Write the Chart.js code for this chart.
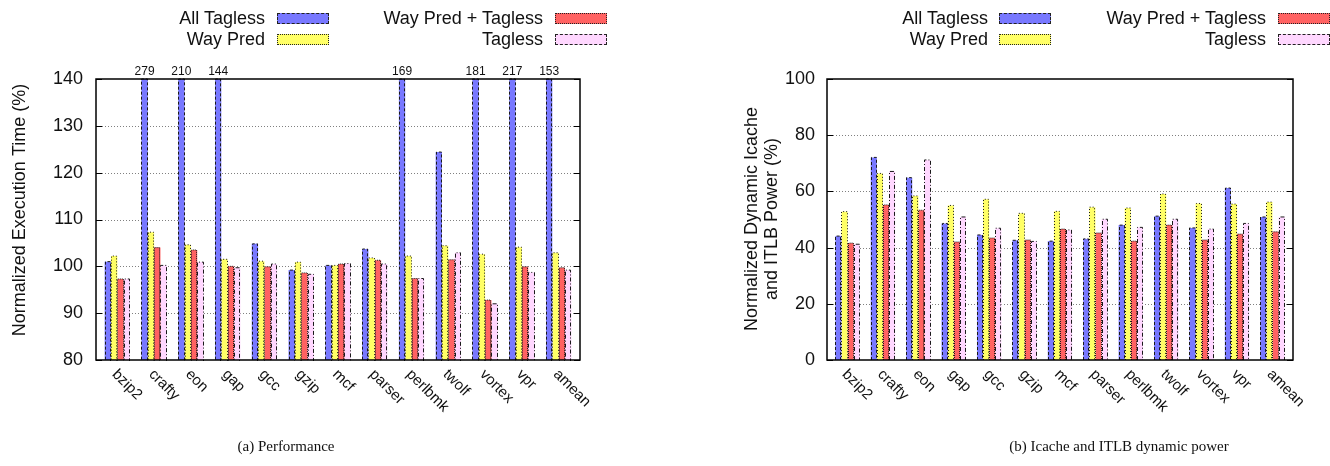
<!DOCTYPE html>
<html><head><meta charset="utf-8">
<script src="https://cdn.jsdelivr.net/npm/chart.js@4.4.0/dist/chart.umd.min.js"></script>
<style>
body{margin:0;background:#fff;width:1330px;height:466px;overflow:hidden;position:relative;font-family:'Liberation Sans',Arial,sans-serif;color:#111;}
canvas{position:absolute;top:0;}
.lt{position:absolute;font-size:18px;line-height:20px;white-space:nowrap;text-align:right;}
.sw{position:absolute;height:9px;box-sizing:content-box;}
.cap{position:absolute;top:438px;font-family:'Liberation Serif','Times New Roman',serif;font-size:15px;white-space:nowrap;transform:translateX(-50%);}
</style></head><body>
<canvas id="perf" width="665" height="466" style="left:0"></canvas>
<canvas id="pow" width="665" height="466" style="left:665px"></canvas>
<div id="legends"></div>
<div class="cap" style="left:286px">(a) Performance</div>
<div class="cap" style="left:1119px">(b) Icache and ITLB dynamic power</div>
<script>
const categories = ['bzip2','crafty','eon','gap','gcc','gzip','mcf','parser','perlbmk','twolf','vortex','vpr','amean'];
const seriesNames = ['All Tagless','Way Pred','Way Pred + Tagless','Tagless'];
const seriesColors = ['#7878ff','#ffff66','#ff6262','#ffd7ff'];
const seriesDash = [[3,2],[1,2],[1,1],[4,2,1,2]];

const perfAllTagless     = [101.0,279,210,144,104.8,99.2,100.2,103.7,169,124.4,181,217,153];
const perfWayPred        = [102.2,107.3,104.6,101.5,101.1,100.9,100.2,101.8,102.2,104.4,102.6,104.1,102.9];
const perfWayPredTagless = [97.3,104.0,103.5,100.0,99.9,98.6,100.5,101.3,97.4,101.4,92.8,99.9,99.7];
const perfTagless        = [97.3,100.2,100.9,99.7,100.5,98.3,100.6,100.5,97.4,102.9,92.0,98.7,99.2];

const powAllTagless      = [44.1,72.1,64.9,48.6,44.5,42.6,42.3,43.1,48.0,51.2,47.0,61.2,50.9];
const powWayPred         = [52.8,66.4,58.4,55.0,57.2,52.2,52.9,54.4,54.1,59.1,55.7,55.5,56.2];
const powWayPredTagless  = [41.6,55.2,53.3,42.0,43.4,42.7,46.6,45.2,42.3,48.0,42.7,44.8,45.6];
const powTagless         = [41.2,67.1,71.2,50.9,46.9,42.2,46.3,50.1,47.2,50.1,46.6,48.6,50.9];

const perfTicks = [80,90,100,110,120,130,140];
const powTicks  = [0,20,40,60,80,100];

const FONT = "'Liberation Sans', Arial, sans-serif";

function overlay(opts){
  return {
    id:'overlay',
    beforeDatasetsDraw(chart){
      const {ctx, chartArea:a, scales:{y}} = chart;
      ctx.save();
      ctx.strokeStyle='#808080'; ctx.lineWidth=1; ctx.setLineDash([1,2]);
      opts.ticks.forEach(v=>{
        if(v===opts.ticks[0]||v===opts.ticks[opts.ticks.length-1]) return;
        const py=Math.round(y.getPixelForValue(v))+0.5;
        ctx.beginPath(); ctx.moveTo(a.left,py); ctx.lineTo(a.right,py); ctx.stroke();
      });
      ctx.restore();
    },
    afterDatasetsDraw(chart){
      const {ctx, chartArea:a, scales:{y}} = chart;
      ctx.save();
      ctx.beginPath(); ctx.rect(a.left,a.top-1,a.right-a.left,a.bottom-a.top+2); ctx.clip();
      chart.data.datasets.forEach((ds,i)=>{
        const meta=chart.getDatasetMeta(i);
        ctx.strokeStyle='#1a1a1a'; ctx.lineWidth=1; ctx.setLineDash(seriesDash[i]);
        meta.data.forEach(bar=>{
          const p=bar.getProps(['x','y','base','width'],true);
          const l=Math.round(p.x-p.width/2)+0.5, r=Math.round(p.x+p.width/2)-0.5;
          const t=Math.max(p.y,a.top);
          ctx.beginPath(); ctx.moveTo(l,p.base); ctx.lineTo(l,t); ctx.lineTo(r,t); ctx.lineTo(r,p.base); ctx.stroke();
        });
      });
      ctx.restore();
      ctx.save();
      ctx.strokeStyle='#000'; ctx.lineWidth=1.5; ctx.setLineDash([]);
      ctx.strokeRect(a.left,a.top,a.right-a.left,a.bottom-a.top);
      ctx.lineWidth=1;
      opts.ticks.forEach(v=>{
        const py=Math.round(y.getPixelForValue(v))+0.5;
        ctx.beginPath(); ctx.moveTo(a.left,py); ctx.lineTo(a.left+6,py);
        ctx.moveTo(a.right,py); ctx.lineTo(a.right-6,py); ctx.stroke();
      });
      ctx.fillStyle='#111'; ctx.font='12px '+FONT; ctx.textAlign='center'; ctx.textBaseline='middle';
      chart.data.datasets.forEach((ds,i)=>{
        const meta=chart.getDatasetMeta(i);
        ds.data.forEach((d,j)=>{
          if(d.y>y.max){ ctx.fillText(String(d.y), meta.data[j].x, a.top-7); }
        });
      });
      ctx.restore();
    },
    afterDraw(chart){
      const {ctx, chartArea:a, scales:{x}} = chart;
      ctx.save();
      ctx.fillStyle='#111'; ctx.font='15px '+FONT; ctx.textAlign='left'; ctx.textBaseline='middle';
      categories.forEach((c,i)=>{
        const px=x.getPixelForValue(i);
        ctx.save(); ctx.translate(px-3,a.bottom+12); ctx.rotate(Math.PI/4); ctx.fillText(c,0,0); ctx.restore();
      });
      ctx.font='18px '+FONT; ctx.textAlign='center';
      opts.title.forEach((t,k)=>{
        ctx.save(); ctx.translate(opts.titleX+k*20, opts.titleY); ctx.rotate(-Math.PI/2); ctx.fillText(t,0,0); ctx.restore();
      });
      ctx.restore();
    }
  };
}

function makeChart(id, series, ticks, yAxisWidth, padRight, title, titleX, titleY, tickPad){
  const datasets = series.map((vals,i)=>({
    label: seriesNames[i],
    data: vals.map((v,j)=>({x:j,y:v})),
    backgroundColor: seriesColors[i],
    borderWidth: 0,
    categoryPercentage: 0.69,
    barPercentage: 1.0
  }));
  return new Chart(document.getElementById(id), {
    type:'bar',
    data:{datasets},
    options:{
      responsive:false, animation:false,
      layout:{padding:{left:0,right:padRight,top:79,bottom:0}},
      plugins:{legend:{display:false}, tooltip:{enabled:false}},
      scales:{
        x:{type:'linear', min:-0.58, max:12.58, offset:false,
           ticks:{display:false}, grid:{display:false}, border:{display:false},
           afterFit:(s)=>{s.height=106;}},
        y:{min:ticks[0], max:ticks[ticks.length-1],
           afterBuildTicks:(s)=>{s.ticks=ticks.map(v=>({value:v}));},
           ticks:{font:{family:FONT,size:18}, color:'#111', padding:tickPad},
           grid:{display:false, drawTicks:false}, border:{display:false},
           afterFit:(s)=>{s.width=yAxisWidth;}}
      }
    },
    plugins:[overlay({ticks, title, titleX, titleY})]
  });
}

makeChart('perf',[perfAllTagless,perfWayPred,perfWayPredTagless,perfTagless], perfTicks, 96, 85,
  ['Normalized Execution Time (%)'], 20, 210, 13);
makeChart('pow',[powAllTagless,powWayPred,powWayPredTagless,powTagless], powTicks, 162, 37,
  ['Normalized Dynamic Icache','and ITLB Power (%)'], 87, 219, 12);

const legendLayouts = [
  {col1Right:265, col1Sw:277, col2Right:543, col2Sw:555},
  {col1Right:988, col1Sw:999, col2Right:1266, col2Sw:1278}
];
const rows = [18, 39];
const order = [[0,0,0],[1,0,1],[2,1,0],[3,1,1]];
const borderStyles = ['dashed','dotted','dotted','dashed'];
const L = document.getElementById('legends');
legendLayouts.forEach(g=>{
  order.forEach(([s,col,row])=>{
    const t=document.createElement('div'); t.className='lt';
    const right = col===0?g.col1Right:g.col2Right;
    t.style.right=(1330-right)+'px'; t.style.top=(rows[row]-10)+'px';
    t.textContent=seriesNames[s]; L.appendChild(t);
    const sw=document.createElement('div'); sw.className='sw';
    sw.style.left=(col===0?g.col1Sw:g.col2Sw)+'px'; sw.style.top=(rows[row]-5)+'px';
    sw.style.width='50px'; sw.style.background=seriesColors[s];
    sw.style.border='1px '+borderStyles[s]+' #222';
    L.appendChild(sw);
  });
});
</script>
</body></html>
